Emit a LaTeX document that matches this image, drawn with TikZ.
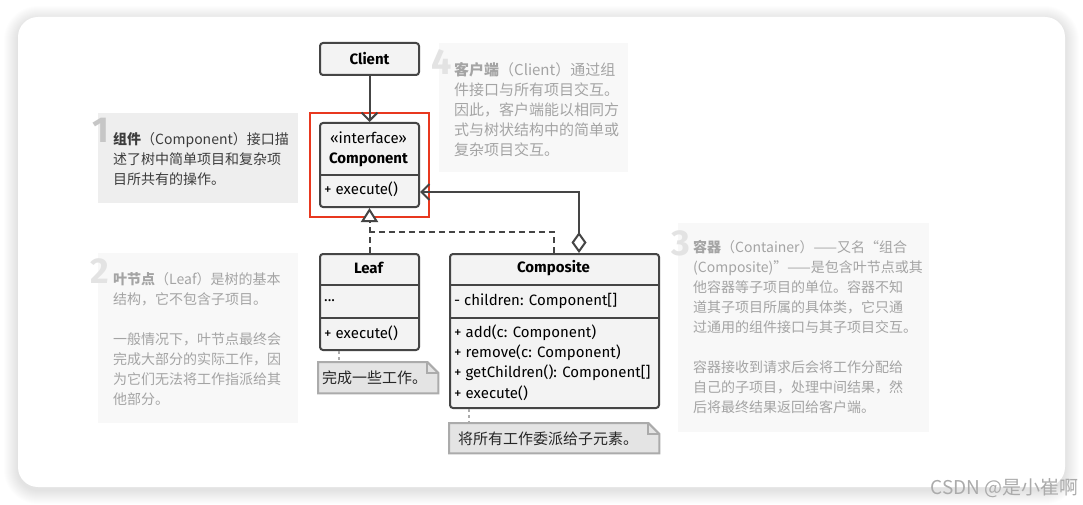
\documentclass[tikz,border=0pt]{standalone}
\usepackage{fontspec}
\setmainfont{Fira Sans}
\newfontfamily\cjk{Noto Sans CJK SC}
\usetikzlibrary{arrows.meta,positioning,fit}

\definecolor{umlline}{HTML}{454545}
\definecolor{umlfill}{HTML}{F3F3F3}
\definecolor{notefill}{HTML}{E4E4E4}
\definecolor{noteline}{HTML}{ABABAB}
\definecolor{hintfill}{HTML}{F8F8F8}
\definecolor{hintfillon}{HTML}{EEEEEE}
\definecolor{hinttext}{HTML}{A4A4A4}
\definecolor{hinttexton}{HTML}{3C3C3C}
\definecolor{hintnum}{HTML}{E3E3E3}
\definecolor{hintnumon}{HTML}{C6C6C6}
\definecolor{focusred}{HTML}{E8381F}

\begin{document}
\begin{tikzpicture}[
    x=1pt, y=-1pt,
    umlbox/.style={draw=umlline, fill=umlfill, line width=2, rounded corners=3,
        inner sep=0, anchor=north west},
    umlsep/.style={draw=umlline, line width=2},
    title/.style={font=\fontsize{15}{18}\selectfont\bfseries, inner sep=0},
    member/.style={font=\fontsize{15}{18}\selectfont, inner sep=0, anchor=west},
    link/.style={draw=umlline, line width=2},
    hintbox/.style={fill=hintfill, inner sep=0, anchor=north west},
    hint/.style={font=\cjk\fontsize{14}{20}\selectfont, text=hinttext, align=left,
        inner sep=0, anchor=north west},
    hintno/.style={font=\fontsize{36}{36}\selectfont\bfseries, text=hintnum,
        inner sep=0, anchor=base east},
    notebox/.style={inner sep=0, anchor=north west, font=\cjk\fontsize{15}{18}\selectfont,
        text=black!85},
    notedraw/.style={draw=noteline, fill=notefill, line width=2},
    notelink/.style={draw=noteline, line width=1.5, dash pattern=on 3pt off 3pt},
]
\useasboundingbox (0,0) rectangle (1083,505);

% card with shadow
\foreach \i in {1,...,14}
  \fill[black, opacity=0.009, rounded corners=20+\i]
    (18-\i,17-\i+3) rectangle (1065+\i,487+\i+3);
\fill[white, rounded corners=20] (18,17) rectangle (1065,487);

% hint boxes
\node[hintbox, fill=hintfillon, minimum width=200, minimum height=90] (hint1) at (98,113) {};
\node[hintno, text=hintnumon] (no1) at (109,143) {1};
\node[hint, text=hinttexton] (txt1) at (113,132)
  {\textbf{组件}（Component）接口描\\述了树中简单项目和复杂项\\目所共有的操作。};

\node[hintbox, minimum width=200, minimum height=170] (hint2) at (98,253) {};
\node[hintno] (no2) at (109,283) {2};
\node[hint] (txt2) at (113,272)
  {\textbf{叶节点}（Leaf）是树的基本\\结构，它不包含子项目。\\[20pt]一般情况下，叶节点最终会\\完成大部分的实际工作，因\\为它们无法将工作指派给其\\他部分。};

\node[hintbox, minimum width=251, minimum height=209] (hint3) at (678,223) {};
\node[hintno] (no3) at (690,255) {3};
\node[hint] (txt3) at (693,240)
  {\textbf{容器}（Container）——又名“组合\\(Composite)”——是包含叶节点或其\\他容器等子项目的单位。容器不知\\道其子项目所属的具体类，它只通\\过通用的组件接口与其子项目交互。\\[20pt]容器接收到请求后会将工作分配给\\自己的子项目，处理中间结果，然\\后将最终结果返回给客户端。};

\node[hintbox, minimum width=189, minimum height=129] (hint4) at (439,43) {};
\node[hintno] (no4) at (452,75) {4};
\node[hint, font=\cjk\fontsize{15}{20}\selectfont] (txt4) at (454,62)
  {\textbf{客户端}（Client）通过组\\件接口与所有项目交互。\\因此，客户端能以相同方\\式与树状结构中的简单或\\复杂项目交互。};

% client
\node[umlbox, minimum width=99, minimum height=32, font=\fontsize{15}{18}\selectfont\bfseries]
  (client) at (319,42) {Client};

% component
\node[umlbox, minimum width=99, minimum height=84] (comp) at (319,122) {};
\draw[umlsep] (comp.west |- 0,175) -- (comp.east |- 0,175);
\node[title, font=\fontsize{15}{18}\selectfont] (compstereo) at (368.5,138) {«interface»};
\node[title] (compname) at (368.5,160) {Component};
\node[member] (compexec) at (324,189) {+ execute()};
\node[draw=focusred, line width=2.5, inner sep=9, fit=(comp)] (focus) {};

% leaf
\node[umlbox, minimum width=99, minimum height=96] (leaf) at (319,253) {};
\draw[umlsep] (leaf.west |- 0,285) -- (leaf.east |- 0,285);
\draw[umlsep] (leaf.west |- 0,318) -- (leaf.east |- 0,318);
\node[title] (leafname) at (368.5,268) {Leaf};
\node[member] (leafdots) at (324,301) {...};
\node[member] (leafexec) at (324,333) {+ execute()};

% composite
\node[umlbox, minimum width=209, minimum height=154] (composite) at (449,253) {};
\draw[umlsep] (composite.west |- 0,285) -- (composite.east |- 0,285);
\draw[umlsep] (composite.west |- 0,318) -- (composite.east |- 0,318);
\node[title] (compositename) at (553.5,268) {Composite};
\node[member] (children) at (454,301) {- children: Component[]};
\node[member] (addop) at (454,333) {+ add(c: Component)};
\node[member] (removeop) at (454,353) {+ remove(c: Component)};
\node[member] (getop) at (454,373) {+ getChildren(): Component[]};
\node[member] (execop) at (454,393) {+ execute()};

% notes
\node[notebox, minimum width=120, minimum height=31] (note1) at (318,362) {};
\draw[notedraw] (note1.north west) -- ([xshift=-11]note1.north east)
  -- ([yshift=-11]note1.north east) -- (note1.south east) -- (note1.south west) -- cycle;
\draw[notedraw, fill=none] ([xshift=-11]note1.north east) |- ([yshift=-11]note1.north east);
\node[notebox, anchor=west] (note1text) at (322,378) {完成一些工作。};

\node[notebox, minimum width=210, minimum height=30] (note2) at (449,423) {};
\draw[notedraw] (note2.north west) -- ([xshift=-11]note2.north east)
  -- ([yshift=-11]note2.north east) -- (note2.south east) -- (note2.south west) -- cycle;
\draw[notedraw, fill=none] ([xshift=-11]note2.north east) |- ([yshift=-11]note2.north east);
\node[notebox, anchor=west] (note2text) at (458,439) {将所有工作委派给子元素。};

\draw[notelink] (leaf.south -| 339,0) -- (note1.north -| 339,0);
\draw[notelink] (composite.south -| 469,0) -- (note2.north -| 469,0);

% connectors
\coordinate (split) at (368.5,232);
\coordinate (aggbend) at (579,192);
\draw[link, -{Straight Barb[length=8, width=16]}] (client) -- (comp);
\draw[link, dash pattern=on 6pt off 4pt, -{Triangle[open, length=14, width=17, fill=white]}]
  (leaf.north) -- (comp.south);
\draw[link, dash pattern=on 6pt off 4pt] (composite.north -| 553.5,0) |- (split);
\draw[link, {Diamond[open, length=21, width=15, fill=white]}-{Straight Barb[length=8, width=16]}]
  (composite.north -| aggbend) |- (comp.east |- aggbend);

% watermark
\node[font=\cjk\fontsize{19}{22}\selectfont, text=black!33, anchor=east, inner sep=0]
  (mark) at (1079,488) {CSDN @是小崔啊};
\end{tikzpicture}
\end{document}
